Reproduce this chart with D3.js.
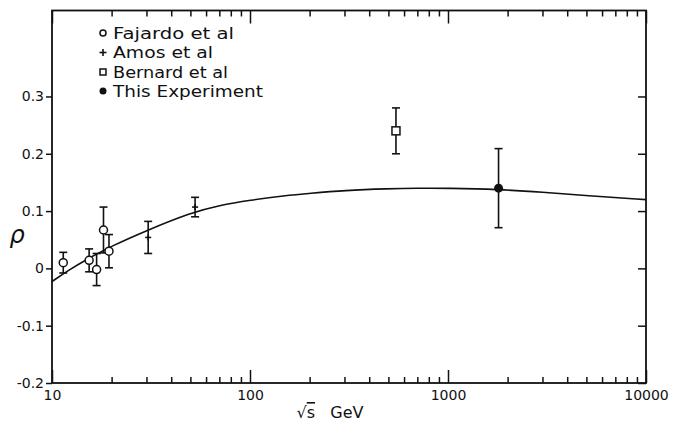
<!DOCTYPE html>
<html>
<head>
<meta charset="utf-8">
<script src="https://cdn.jsdelivr.net/npm/d3@7"></script>
<style>
  html, body { margin: 0; padding: 0; background: #fff; }
  svg { display: block; }
  text { font-family: "DejaVu Sans", "Liberation Sans", sans-serif; fill: #111; }
</style>
</head>
<body>
<svg id="chart" width="674" height="430"></svg>
<script>
// ---- data ----
const fajardoS   = [11.4, 15.4, 16.8, 18.2, 19.4];
const fajardoRho = [0.010, 0.014, -0.002, 0.067, 0.030];
const fajardoErr = [0.018, 0.020, 0.028, 0.040, 0.029];

const amosS   = [30.6, 52.8];
const amosRho = [0.054, 0.107];
const amosErr = [0.028, 0.017];

const bernardS   = [546];
const bernardRho = [0.24];
const bernardErr = [0.04];

const thisS   = [1800];
const thisRho = [0.140];
const thisErr = [0.069];

const curveS   = [10, 12, 15, 20, 30, 50, 70, 100, 150, 200, 300, 500, 700, 1000, 1800, 3000, 5000, 10000];
const curveRho = [-0.023, -0.004, 0.016, 0.039, 0.066, 0.097, 0.110, 0.119, 0.127, 0.131, 0.136, 0.139, 0.140, 0.140, 0.138, 0.133, 0.127, 0.120];

const yTicks      = [-0.2, -0.1, 0, 0.1, 0.2, 0.3];
const yTickLabels = ["-0.2", "-0.1", "0", "0.1", "0.2", "0.3"];
const xMajor      = [10, 100, 1000, 10000];
const xMajorLabels = ["10", "100", "1000", "10000"];

const legendLabels = ["Fajardo et al", "Amos et al", "Bernard et al", "This Experiment"];
const legendMarks  = ["circle", "plus", "square", "dot"];

// ---- layout ----
const svg = d3.select("#chart");
const L = 52, R = 646, T = 10.5, B = 383;
const x = d3.scaleLog().domain([10, 10000]).range([L, R]);
const y = d3.scaleLinear().domain([-0.2, 0.45]).range([B, T]);

const ink = "#111";
const g = svg.append("g");

// minor ticks for x
const xMinor = [];
for (let d = 10; d < 10000; d *= 10) for (let k = 2; k <= 9; k++) xMinor.push(d * k);

// bottom axis (ticks inward)
const bottomAx = d3.axisBottom(x).tickValues(xMajor).tickFormat((d, i) => xMajorLabels[i]).tickSize(-13).tickPadding(5);
const bAx = g.append("g").attr("transform", `translate(0,${B})`).call(bottomAx);
const bMin = g.append("g").attr("transform", `translate(0,${B})`)
  .call(d3.axisBottom(x).tickValues(xMinor).tickFormat("").tickSize(-6).tickSizeOuter(0));

// top axis (ticks inward)
const tAx = g.append("g").attr("transform", `translate(0,${T})`)
  .call(d3.axisTop(x).tickValues(xMajor).tickFormat("").tickSize(-13).tickSizeOuter(0));
const tMin = g.append("g").attr("transform", `translate(0,${T})`)
  .call(d3.axisTop(x).tickValues(xMinor).tickFormat("").tickSize(-6).tickSizeOuter(0));

// left axis (ticks outward)
const lAx = g.append("g").attr("transform", `translate(${L},0)`)
  .call(d3.axisLeft(y).tickValues(yTicks).tickFormat((d, i) => yTickLabels[i]).tickSize(6).tickSizeOuter(0).tickPadding(2));

// right axis (ticks inward)
const rAx = g.append("g").attr("transform", `translate(${R},0)`)
  .call(d3.axisRight(y).tickValues(yTicks).tickFormat("").tickSize(-8).tickSizeOuter(0));

[bAx, bMin, tAx, tMin, lAx, rAx].forEach(a => {
  a.select(".domain").remove();
  a.selectAll("line").attr("stroke", ink).attr("stroke-width", 1.5);
  a.selectAll("text").attr("font-size", 14).attr("fill", ink)
    .style("font-family", "'DejaVu Sans', sans-serif");
});
bAx.selectAll(".tick text").attr("dy", "0.85em");

// frame
g.append("rect").attr("x", L).attr("y", T).attr("width", R - L).attr("height", B - T)
  .attr("fill", "none").attr("stroke", ink).attr("stroke-width", 1.8);

// axis titles
svg.append("text").attr("x", 17).attr("y", 243).attr("text-anchor", "middle")
  .attr("font-size", 24).attr("font-style", "italic").text("ρ");
const xt = svg.append("text").attr("x", 330).attr("y", 418).attr("text-anchor", "middle")
  .attr("font-size", 16).attr("xml:space", "preserve");
xt.append("tspan").text("√");
xt.append("tspan").style("text-decoration", "overline").text("s");
xt.append("tspan").text("   GeV");

// curve
const curve = curveS.map((s, i) => [s, curveRho[i]]);
g.append("path").datum(curve)
  .attr("d", d3.line().x(d => x(d[0])).y(d => y(d[1])).curve(d3.curveBasis))
  .attr("fill", "none").attr("stroke", ink).attr("stroke-width", 1.6);

// error bars
function errorBars(sArr, rArr, eArr) {
  const data = sArr.map((s, i) => ({ s, r: rArr[i], e: eArr[i] }));
  const eg = g.append("g").attr("stroke", ink).attr("stroke-width", 1.6);
  eg.selectAll("line.v").data(data).join("line")
    .attr("x1", d => x(d.s)).attr("x2", d => x(d.s))
    .attr("y1", d => y(d.r + d.e)).attr("y2", d => y(d.r - d.e));
  eg.selectAll("line.t").data(data).join("line")
    .attr("x1", d => x(d.s) - 4).attr("x2", d => x(d.s) + 4)
    .attr("y1", d => y(d.r + d.e)).attr("y2", d => y(d.r + d.e));
  eg.selectAll("line.b").data(data).join("line")
    .attr("x1", d => x(d.s) - 4).attr("x2", d => x(d.s) + 4)
    .attr("y1", d => y(d.r - d.e)).attr("y2", d => y(d.r - d.e));
  return data;
}

const fData = errorBars(fajardoS, fajardoRho, fajardoErr);
const aData = errorBars(amosS, amosRho, amosErr);
const bData = errorBars(bernardS, bernardRho, bernardErr);
const tData = errorBars(thisS, thisRho, thisErr);

function drawMark(sel, type, cx, cy, size) {
  if (type === "circle") {
    sel.append("circle").attr("cx", cx).attr("cy", cy).attr("r", size)
      .attr("fill", "#fff").attr("stroke", ink).attr("stroke-width", 1.5);
  } else if (type === "dot") {
    sel.append("circle").attr("cx", cx).attr("cy", cy).attr("r", size + 0.5).attr("fill", ink);
  } else if (type === "square") {
    sel.append("rect").attr("x", cx - size).attr("y", cy - size).attr("width", 2 * size).attr("height", 2 * size)
      .attr("fill", "#fff").attr("stroke", ink).attr("stroke-width", 1.5);
  } else if (type === "plus") {
    sel.append("line").attr("x1", cx - size).attr("x2", cx + size).attr("y1", cy).attr("y2", cy)
      .attr("stroke", ink).attr("stroke-width", 1.6);
    sel.append("line").attr("x1", cx).attr("x2", cx).attr("y1", cy - size).attr("y2", cy + size)
      .attr("stroke", ink).attr("stroke-width", 1.6);
  }
}

const mg = g.append("g");
fData.forEach(d => drawMark(mg, "circle", x(d.s), y(d.r), 4));
aData.forEach(d => drawMark(mg, "plus", x(d.s), y(d.r), 3));
bData.forEach(d => drawMark(mg, "square", x(d.s), y(d.r), 4));
tData.forEach(d => drawMark(mg, "dot", x(d.s), y(d.r), 4));

// legend
const lg = svg.append("g");
const legRows = [33, 52.5, 72, 91];
const legWidths = [121, 100, 115, 150];
legendLabels.forEach((lab, i) => {
  const cy = legRows[i];
  const sz = legendMarks[i] === "plus" ? 3.5 : 3;
  drawMark(lg, legendMarks[i], 103, cy, sz);
  lg.append("text").attr("x", 113).attr("y", cy + 5.5).attr("font-size", 15)
    .attr("textLength", legWidths[i]).attr("lengthAdjust", "spacingAndGlyphs").text(lab);
});
</script>
</body>
</html>
